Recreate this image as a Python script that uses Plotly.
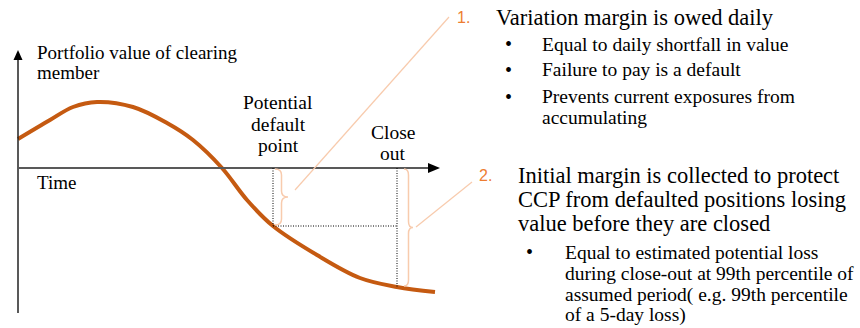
import plotly.graph_objects as go

# ---------------- data ----------------
# Portfolio value of the clearing member over time (origin = axes crossing)
time = [0, 32, 55, 79, 115, 149, 175, 204, 229, 255, 299, 342, 379, 417]
portfolio_value = [29, 48, 61, 66, 61, 45, 28, 0, -32, -58, -87, -110, -119, -124]

event_labels = [["Potential", "default", "point"], ["Close", "out"]]
event_time = [255, 379]
event_value = [-58, -119]

axis_y_label = ["Portfolio value of clearing", "member"]
axis_x_label = "Time"

point1_title = "Variation margin is owed daily"
point1_bullets = ["Equal to daily shortfall in value",
                  "Failure to pay is a default",
                  "Prevents current exposures from",
                  "accumulating"]
point2_title = ["Initial margin is collected to protect",
                "CCP from defaulted positions losing",
                "value before they are closed"]
point2_bullets = ["Equal to estimated potential loss",
                  "during close-out at 99th percentile of",
                  "assumed period( e.g. 99th percentile",
                  "of a 5-day loss)"]

# ---------------- style ----------------
W, H = 860, 328
OX, OY = 18, 168  # pixel position of axes origin
CURVE = "#C55A11"
PEACH = "#F8CBAD"
NUM = "#ED7D31"
FONT = "'Liberation Serif', 'DejaVu Serif', serif"
NUMFONT = "'Liberation Sans', 'DejaVu Sans', sans-serif"


def px(x):
    return x / W


def py(y):
    return 1 - y / H


fig = go.Figure()
fig.add_trace(go.Scatter(x=time, y=portfolio_value, mode="lines",
                         line=dict(color=CURVE, width=4, shape="spline", smoothing=1.0),
                         hoverinfo="skip", showlegend=False))

shapes = []
# axes
shapes.append(dict(type="line", xref="x", yref="y", x0=0, x1=0, y0=-145, y1=110,
                   line=dict(color="#222222", width=1.5)))
shapes.append(dict(type="path", xref="x", yref="y",
                   path="M -4.5,108 L 4.5,108 L 0,118 Z",
                   fillcolor="black", line=dict(color="black", width=0)))
shapes.append(dict(type="line", xref="x", yref="y", x0=0, x1=412, y0=0, y1=0,
                   line=dict(color="#595959", width=2)))
shapes.append(dict(type="path", xref="x", yref="y",
                   path="M 410,5 L 410,-5 L 422,0 Z",
                   fillcolor="black", line=dict(color="black", width=0)))

# dotted guide lines
td, tc = event_time
vd, vc = event_value
dot = dict(color="black", width=1, dash="1px,1.5px")
shapes.append(dict(type="line", xref="x", yref="y", x0=td, x1=td, y0=0, y1=vd, line=dot))
shapes.append(dict(type="line", xref="x", yref="y", x0=td, x1=tc, y0=vd, y1=vd, line=dot))
shapes.append(dict(type="line", xref="x", yref="y", x0=tc, x1=tc, y0=0, y1=vc, line=dot))


def brace(x, top, bot, w, r):
    mid = (top + bot) / 2
    return (f"M {x},{top} Q {x+w},{top} {x+w},{top-r} L {x+w},{mid+r} "
            f"Q {x+w},{mid} {x+2*w},{mid} Q {x+w},{mid} {x+w},{mid-r} "
            f"L {x+w},{bot+r} Q {x+w},{bot} {x},{bot}")


shapes.append(dict(type="path", xref="x", yref="y",
                   path=brace(td + 2, -1, vd + 1, 6.5, 6),
                   line=dict(color=PEACH, width=1.5)))
shapes.append(dict(type="path", xref="x", yref="y",
                   path=brace(tc + 7, -1, vc + 1, 4.5, 6),
                   line=dict(color=PEACH, width=1.5)))

# leader lines from braces to text
shapes.append(dict(type="line", xref="paper", yref="paper",
                   x0=px(295), y0=py(190), x1=px(449), y1=py(17),
                   line=dict(color=PEACH, width=1.2)))
shapes.append(dict(type="line", xref="paper", yref="paper",
                   x0=px(416), y0=py(227), x1=px(472), y1=py(182),
                   line=dict(color=PEACH, width=1.2)))

ann = []


def text(t, x, y, size, color="black", xanchor="left", family=FONT):
    ann.append(dict(text=t, x=px(x), y=py(y), xref="paper", yref="paper",
                    xanchor=xanchor, yanchor="middle", showarrow=False,
                    font=dict(family=family, size=size, color=color)))


# left diagram labels
text(axis_y_label[0], 35, 52, 19)
text(axis_y_label[1], 35, 73, 19)
text(axis_x_label, 35, 182, 19)
for line, yy in zip(event_labels[0], [102, 124, 146]):
    text(line, OX + td + 5, yy, 19.5, xanchor="center")
for line, yy in zip(event_labels[1], [132, 153]):
    text(line, OX + tc - 4, yy, 19.5, xanchor="center")

# right text block
text("1.", 455, 17, 16, NUM, family=NUMFONT)
text(point1_title, 494, 17, 22.5)
for b, yy in zip(point1_bullets, [44, 70, 97, 117]):
    if b != "accumulating":
        text("•", 503, yy, 20)
    text(b, 540, yy, 19.5)

text("2.", 477, 175, 16, NUM, family=NUMFONT)
for line, yy in zip(point2_title, [175, 199, 223]):
    text(line, 516, yy, 22.5)
for i, (b, yy) in enumerate(zip(point2_bullets, [252, 273, 295, 315])):
    if i == 0:
        text("•", 524, yy, 20)
    text(b, 563, yy, 19.5)

fig.update_layout(
    width=W, height=H,
    margin=dict(l=0, r=0, t=0, b=0, pad=0),
    paper_bgcolor="white", plot_bgcolor="white",
    xaxis=dict(range=[-OX, W - OX], visible=False, fixedrange=True),
    yaxis=dict(range=[OY - H, OY], visible=False, fixedrange=True),
    shapes=shapes, annotations=ann, showlegend=False,
)

fig.write_html("out.html", config={"displayModeBar": False},
               post_script="document.body.style.margin='0px';document.body.style.overflow='hidden';")
